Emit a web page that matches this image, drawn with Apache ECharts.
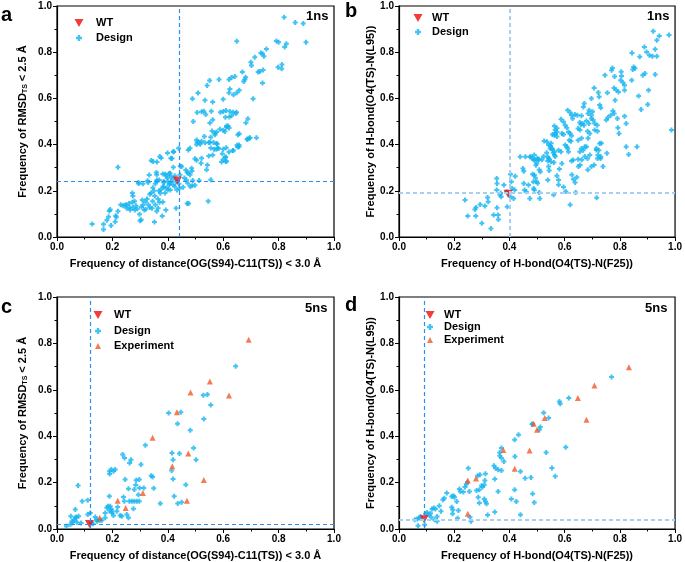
<!DOCTYPE html>
<html><head><meta charset="utf-8">
<script src="https://cdn.jsdelivr.net/npm/echarts@6/dist/echarts.min.js"></script>
<style>html,body{margin:0;padding:0;background:#fff}#c{width:685px;height:562px}</style>
</head><body><div id="c"></div>
<script>
// ---------- data ----------
const axisMin = 0, axisMax = 1, axisStep = 0.2;
const tickLabels = ['0.0','0.2','0.4','0.6','0.8','1.0'];

const xTitleA = 'Frequency of distance(OG(S94)-C11(TS)) < 3.0 Å';
const yTitleA = 'Frequency of RMSD{s|TS} < 2.5 Å';
const xTitleB = 'Frequency of H-bond(O4(TS)-N(F25))';
const yTitleB = 'Frequency of H-bond(O4(TS)-N(L95))';

const wtA = [[0.435, 0.245]];
const refA = [0.437, 0.245];
const designA = [
[0.127,0.056],[0.168,0.055],[0.168,0.033],[0.180,0.073],[0.186,0.088],[0.189,0.113],[0.192,0.119],[0.195,0.050],[0.212,0.092],[0.214,0.085],
[0.210,0.066],[0.220,0.111],[0.220,0.302],[0.238,0.135],[0.246,0.137],[0.252,0.124],[0.262,0.128],[0.264,0.117],[0.272,0.191],[0.274,0.177],
[0.272,0.150],[0.274,0.128],[0.281,0.117],[0.295,0.232],[0.298,0.099],[0.300,0.070],[0.304,0.075],[0.308,0.160],[0.310,0.138],[0.319,0.152],
[0.315,0.117],[0.327,0.243],[0.333,0.268],[0.340,0.331],[0.346,0.213],[0.353,0.177],[0.352,0.065],[0.361,0.246],[0.361,0.325],[0.368,0.200],
[0.373,0.189],[0.376,0.342],[0.382,0.152],[0.393,0.117],[0.380,0.091],[0.399,0.364],[0.421,0.368],[0.415,0.340],[0.405,0.275],[0.430,0.124],
[0.343,0.124],[0.330,0.140],[0.345,0.155],[0.365,0.165],[0.375,0.205],[0.385,0.215],[0.390,0.190],[0.400,0.205],[0.405,0.225],[0.410,0.238],
[0.412,0.260],[0.418,0.250],[0.425,0.265],[0.430,0.240],[0.440,0.230],[0.442,0.210],[0.445,0.306],[0.398,0.255],[0.390,0.272],[0.385,0.240],
[0.360,0.270],[0.355,0.230],[0.310,0.230],[0.285,0.135],[0.290,0.122],[0.320,0.120],[0.335,0.128],[0.355,0.140],[0.370,0.150],[0.365,0.125],
[0.360,0.112],[0.325,0.165],[0.335,0.185],[0.340,0.190],[0.350,0.200],[0.305,0.130],[0.260,0.145],[0.280,0.155],[0.250,0.140],[0.230,0.140],
[0.439,0.384],[0.474,0.377],[0.480,0.384],[0.420,0.370],[0.371,0.348],[0.411,0.341],[0.347,0.327],[0.450,0.305],[0.420,0.302],[0.486,0.298],
[0.487,0.286],[0.474,0.276],[0.444,0.269],[0.408,0.276],[0.396,0.265],[0.382,0.273],[0.359,0.279],[0.369,0.247],[0.386,0.236],[0.359,0.240],
[0.329,0.236],[0.294,0.236],[0.400,0.240],[0.408,0.233],[0.420,0.226],[0.425,0.219],[0.433,0.204],[0.409,0.204],[0.396,0.212],[0.383,0.219],
[0.472,0.233],[0.481,0.219],[0.488,0.222],[0.498,0.224],[0.513,0.245],[0.555,0.248],[0.467,0.247],[0.546,0.155],[0.470,0.145],[0.475,0.145],
[0.522,0.341],[0.520,0.319],[0.543,0.312],[0.540,0.291],[0.562,0.355],[0.548,0.351],[0.504,0.420],[0.522,0.414],[0.532,0.435],[0.555,0.432],
[0.548,0.409],[0.565,0.409],[0.578,0.403],[0.517,0.401],[0.581,0.384],[0.575,0.380],[0.611,0.386],[0.597,0.360],[0.608,0.345],[0.609,0.327],
[0.635,0.374],[0.650,0.397],[0.657,0.391],[0.687,0.423],[0.697,0.430],[0.720,0.430],[0.653,0.443],[0.588,0.466],[0.560,0.459],[0.570,0.449],
[0.612,0.475],[0.618,0.481],
[0.820,0.951],[0.860,0.929],[0.889,0.924],[0.899,0.843],[0.649,0.847],[0.792,0.849],[0.800,0.843],[0.828,0.837],[0.822,0.823],[0.756,0.814],
[0.742,0.793],[0.736,0.797],[0.747,0.783],[0.714,0.778],[0.700,0.757],[0.702,0.742],[0.798,0.735],[0.812,0.747],[0.811,0.728],[0.726,0.714],
[0.732,0.716],[0.744,0.723],[0.669,0.714],[0.681,0.692],[0.678,0.682],[0.674,0.673],[0.642,0.695],[0.630,0.690],[0.621,0.682],[0.585,0.682],
[0.551,0.678],[0.742,0.667],[0.658,0.635],[0.649,0.624],[0.624,0.641],[0.621,0.624],[0.637,0.616],[0.600,0.596],[0.708,0.599],[0.542,0.656],
[0.509,0.623],[0.489,0.599],[0.534,0.592],[0.562,0.584],[0.506,0.539],[0.522,0.542],[0.530,0.544],[0.537,0.530],[0.557,0.544],[0.590,0.540],
[0.600,0.543],[0.610,0.548],[0.624,0.543],[0.636,0.540],[0.648,0.540],[0.608,0.518],[0.622,0.520],[0.630,0.525],[0.645,0.535],[0.562,0.508],
[0.552,0.494],[0.492,0.500],[0.689,0.512],[0.682,0.495],[0.612,0.480],[0.621,0.472],[0.600,0.462],[0.606,0.457],[0.576,0.455],[0.570,0.443],
[0.658,0.447],[0.694,0.428],[0.687,0.423],[0.506,0.410],[0.534,0.408],[0.552,0.410],[0.576,0.405],[0.504,0.400],[0.514,0.409],[0.555,0.385],
[0.567,0.380],[0.583,0.383],[0.600,0.380],[0.657,0.398],[0.652,0.390],[0.621,0.368],[0.636,0.375],[0.609,0.346],[0.600,0.336],[0.594,0.325],
[0.612,0.328],[0.498,0.339],[0.504,0.332],[0.470,0.280],[0.465,0.290],[0.480,0.270],[0.455,0.215],[0.460,0.255],[0.490,0.245]
];

const wtB = [[0.395, 0.187]];
const refB = [0.397, 0.187];
const designB = [
[0.239,0.160],[0.249,0.091],[0.275,0.119],[0.279,0.128],[0.278,0.091],[0.294,0.141],[0.300,0.059],[0.311,0.134],[0.321,0.171],[0.323,0.153],
[0.333,0.037],[0.343,0.095],[0.354,0.253],[0.355,0.232],[0.354,0.203],[0.355,0.127],[0.359,0.095],[0.360,0.076],[0.368,0.191],[0.370,0.174],
[0.366,0.183],[0.380,0.225],[0.392,0.131],[0.390,0.196],[0.404,0.272],[0.407,0.239],[0.410,0.210],[0.419,0.203],[0.404,0.174],[0.415,0.167],
[0.421,0.263],[0.439,0.347],[0.449,0.297],[0.452,0.285],[0.452,0.232],[0.458,0.347],[0.455,0.203],[0.461,0.196],[0.469,0.225],[0.476,0.347],
[0.484,0.340],[0.484,0.272],[0.490,0.268],[0.487,0.239],[0.488,0.210],[0.490,0.203],[0.474,0.167],[0.496,0.311],
[0.490,0.355],[0.499,0.319],[0.501,0.341],[0.506,0.334],[0.494,0.256],[0.498,0.240],[0.502,0.233],[0.508,0.291],[0.512,0.283],[0.518,0.334],
[0.524,0.348],[0.508,0.193],[0.510,0.167],[0.526,0.416],[0.535,0.365],[0.542,0.340],[0.539,0.329],[0.542,0.305],[0.539,0.247],[0.544,0.288],
[0.549,0.394],[0.554,0.383],[0.559,0.365],[0.563,0.355],[0.566,0.348],[0.561,0.322],[0.551,0.406],[0.560,0.183],[0.563,0.481],[0.572,0.471],
[0.566,0.449],[0.572,0.435],[0.572,0.265],[0.578,0.247],[0.581,0.294],[0.578,0.226],[0.596,0.216],[0.604,0.197],[0.620,0.140],[0.626,0.269],
[0.632,0.250],[0.638,0.236],[0.640,0.193],[0.644,0.259],[0.650,0.305],[0.656,0.312],[0.662,0.334],[0.673,0.348],[0.679,0.391],[0.684,0.291],
[0.691,0.355],[0.697,0.305],[0.707,0.312],[0.716,0.170],[0.715,0.377],[0.721,0.355],[0.733,0.406],[0.739,0.305],[0.730,0.340],
[0.587,0.510],[0.596,0.499],[0.602,0.484],[0.608,0.473],[0.611,0.549],[0.620,0.539],[0.625,0.527],[0.629,0.513],[0.637,0.530],[0.646,0.527],
[0.661,0.525],[0.655,0.496],[0.659,0.487],[0.665,0.491],[0.670,0.484],[0.649,0.470],[0.655,0.463],[0.679,0.502],[0.688,0.491],[0.697,0.513],
[0.703,0.506],[0.709,0.491],[0.718,0.484],[0.751,0.506],[0.757,0.517],[0.767,0.527],[0.775,0.545],[0.779,0.535],[0.791,0.513],[0.793,0.473],
[0.797,0.448],[0.817,0.523],[0.823,0.491],[0.566,0.463],[0.572,0.455],[0.556,0.444],[0.563,0.441],[0.590,0.448],[0.596,0.444],[0.614,0.455],
[0.620,0.448],[0.625,0.438],[0.617,0.419],[0.623,0.415],[0.602,0.398],[0.608,0.391],[0.649,0.419],[0.661,0.427],[0.683,0.458],[0.685,0.427],
[0.691,0.448],[0.709,0.463],[0.719,0.458],[0.727,0.405],[0.536,0.412],[0.542,0.398],[0.548,0.383],[0.556,0.380],[0.563,0.369],[0.539,0.347],
[0.578,0.376],[0.587,0.369],[0.611,0.383],[0.614,0.369],[0.661,0.383],[0.667,0.376],[0.673,0.391],[0.655,0.369],[0.683,0.340],[0.715,0.383],
[0.724,0.376],[0.731,0.347],[0.719,0.340],[0.753,0.363],[0.823,0.391],[0.832,0.357],[0.862,0.391],[0.987,0.463],[0.494,0.333],[0.506,0.337],
[0.476,0.347],[0.488,0.333],[0.544,0.337],[0.551,0.326],[0.590,0.318],[0.625,0.329],[0.631,0.333],[0.649,0.337],
[0.921,0.891],[0.978,0.875],[0.943,0.870],[0.934,0.852],[0.889,0.823],[0.897,0.801],[0.872,0.780],[0.907,0.787],[0.918,0.783],[0.934,0.783],
[0.928,0.813],[0.844,0.797],[0.850,0.736],[0.847,0.725],[0.855,0.730],[0.773,0.732],[0.770,0.722],[0.746,0.700],[0.781,0.695],[0.805,0.715],
[0.806,0.697],[0.803,0.679],[0.811,0.669],[0.817,0.657],[0.843,0.679],[0.883,0.700],[0.891,0.708],[0.928,0.703],[0.904,0.635],[0.707,0.645],
[0.722,0.626],[0.725,0.607],[0.755,0.624],[0.779,0.645],[0.787,0.636],[0.795,0.628],[0.783,0.592],[0.817,0.635],[0.868,0.610],[0.901,0.574],
[0.877,0.552],[0.671,0.578],[0.668,0.563],[0.697,0.600],[0.727,0.571],[0.731,0.559],[0.701,0.542],[0.697,0.527],[0.689,0.549],[0.685,0.535]
];

const wtC = [[0.117, 0.022]];
const refC = [0.117, 0.022];
const designC = [
[0.034,0.012],[0.048,0.019],[0.050,0.055],[0.054,0.033],[0.058,0.029],[0.063,0.040],[0.066,0.048],[0.070,0.052],[0.072,0.029],[0.066,0.084],
[0.078,0.055],[0.076,0.187],[0.087,0.026],[0.091,0.120],[0.111,0.124],[0.111,0.062],[0.120,0.069],[0.124,0.026],[0.130,0.023],[0.138,0.052],
[0.142,0.041],[0.144,0.033],[0.150,0.038],[0.156,0.038],[0.162,0.038],[0.174,0.048],[0.174,0.069],[0.180,0.092],[0.184,0.098],[0.192,0.098],
[0.196,0.086],[0.189,0.080],[0.198,0.077],[0.189,0.141],[0.190,0.249],[0.190,0.237],[0.196,0.256],[0.204,0.249],[0.210,0.256],[0.198,0.069],
[0.204,0.058],[0.216,0.076],[0.219,0.095],[0.228,0.058],[0.234,0.055],[0.237,0.321],[0.244,0.306],[0.240,0.138],[0.243,0.120],[0.246,0.213],
[0.252,0.062],[0.258,0.048],[0.262,0.285],[0.267,0.299],[0.258,0.173],[0.261,0.120],[0.270,0.120],[0.279,0.120],[0.288,0.120],[0.297,0.120],
[0.276,0.087],[0.279,0.170],[0.284,0.190],[0.286,0.210],[0.297,0.213],[0.294,0.148],[0.298,0.177],[0.303,0.278],[0.313,0.177],[0.319,0.361],
[0.340,0.230],[0.345,0.224],[0.349,0.176],[0.373,0.110],[0.403,0.500],[0.415,0.328],[0.419,0.299],[0.419,0.216],[0.423,0.141],[0.435,0.454],
[0.436,0.110],[0.442,0.325],[0.447,0.503],[0.450,0.115],[0.465,0.191],[0.481,0.426],[0.493,0.349],[0.502,0.299],[0.414,0.252],[0.645,0.702],
[0.528,0.576],[0.543,0.580],[0.555,0.534],[0.530,0.474]
];
const expC = [
[0.692,0.816],[0.552,0.636],[0.482,0.588],[0.621,0.575],[0.433,0.503],[0.345,0.393],[0.474,0.325],[0.416,0.270],[0.530,0.211],[0.310,0.155],
[0.219,0.122],[0.469,0.122],[0.248,0.090],[0.154,0.049]
];

const wtD = [[0.091, 0.042]];
const refD = [0.091, 0.042];
const designD = [
[0.066,0.043],[0.072,0.047],[0.057,0.040],[0.069,0.014],[0.078,0.054],[0.093,0.018],[0.096,0.066],[0.102,0.071],[0.108,0.061],[0.114,0.068],
[0.120,0.086],[0.126,0.090],[0.132,0.086],[0.117,0.051],[0.129,0.040],[0.138,0.033],[0.138,0.054],[0.146,0.100],[0.152,0.076],[0.159,0.126],
[0.164,0.133],[0.173,0.155],[0.191,0.140],[0.197,0.143],[0.201,0.137],[0.191,0.094],[0.195,0.083],[0.194,0.066],[0.209,0.119],[0.215,0.080],
[0.212,0.046],[0.219,0.172],[0.222,0.162],[0.233,0.159],[0.239,0.181],[0.244,0.193],[0.248,0.201],[0.251,0.262],[0.255,0.162],[0.257,0.051],
[0.261,0.033],[0.285,0.229],[0.293,0.234],[0.281,0.166],[0.291,0.169],[0.287,0.137],[0.291,0.112],[0.299,0.186],[0.303,0.181],[0.309,0.191],
[0.313,0.238],[0.311,0.209],[0.309,0.129],[0.313,0.119],[0.317,0.109],[0.321,0.060],[0.344,0.273],[0.350,0.262],[0.359,0.255],[0.371,0.252],
[0.347,0.215],[0.359,0.162],[0.347,0.073],[0.365,0.316],[0.371,0.306],[0.380,0.291],[0.365,0.330],[0.371,0.349],[0.419,0.385],[0.433,0.406],
[0.419,0.169],[0.425,0.119],[0.407,0.129],[0.440,0.248],[0.457,0.219],[0.478,0.222],[0.484,0.152],[0.490,0.114],[0.440,0.061],[0.484,0.453],
[0.581,0.550],[0.584,0.540],[0.524,0.501],[0.542,0.478],[0.482,0.452],[0.508,0.428],[0.512,0.440],[0.533,0.330],[0.604,0.352],[0.615,0.565],
[0.770,0.655],[0.554,0.263],[0.566,0.227],[0.420,0.313]
];
const expD = [
[0.833,0.697],[0.708,0.618],[0.648,0.565],[0.679,0.471],[0.528,0.478],[0.488,0.454],[0.500,0.428],[0.473,0.338],[0.378,0.341],[0.419,0.260],
[0.249,0.209],[0.279,0.218],[0.249,0.066]
];

// ---------- styling ----------
const FF = 'Arial, "Liberation Sans", Helvetica, sans-serif';
const BLUE = '#14b4f0', RED = '#f00a0a', ORANGE = '#f05a2a';
const PLUS = 'path://M3,0H7V3H10V7H7V10H3V7H0V3H3Z';
const DOWN = 'path://M0,0L10,0L5,8.7Z';

const grids = [
  {left: 57, top: 6, width: 277, height: 231},
  {left: 399, top: 6, width: 279, height: 231},
  {left: 57, top: 297, width: 277, height: 232},
  {left: 399, top: 297, width: 279, height: 232}
].map(g => Object.assign({show: true, borderColor: '#000', borderWidth: 1.2, containLabel: false}, g));

function axis(i, name, gap) {
  return {
    type: 'value', gridIndex: i, min: axisMin, max: axisMax, interval: axisStep,
    name: name, nameLocation: 'middle', nameGap: gap,
    nameTextStyle: {fontFamily: FF, fontWeight: 'bold', fontSize: 11, color: '#000',
      rich: {s: {fontFamily: FF, fontWeight: 'bold', fontSize: 7, color: '#000', verticalAlign: 'bottom', padding: [6, 0, 0, 0]}}},
    axisLine: {show: true, onZero: false, lineStyle: {color: '#000', width: 1.2}},
    axisTick: {show: true, inside: false, length: 4, lineStyle: {color: '#000', width: 1}},
    minorTick: {show: true, splitNumber: 2, length: 2.5, lineStyle: {color: '#000', width: 1}},
    splitLine: {show: false},
    axisLabel: {fontFamily: FF, fontWeight: 'bold', fontSize: 10, color: '#000', margin: 5,
      formatter: v => tickLabels[Math.round(v / axisStep)] }
  };
}

const xAxes = [axis(0, xTitleA, 21), axis(1, xTitleB, 21), axis(2, xTitleA, 21), axis(3, xTitleB, 21)];
const yAxes = [axis(0, yTitleA, 28), axis(1, yTitleB, 22), axis(2, yTitleA, 28), axis(3, yTitleB, 22)];

const darkDash = () => ({color: '#2a8ff0', width: 1.2, type: [4, 3], opacity: 1});
const lightDash = () => ({color: '#a9cff0', width: 2, type: [4, 3], opacity: 1});

function refLine(ref, vStyle, hStyle) {
  return {
    silent: true, symbol: ['none', 'none'], label: {show: false}, animation: false,
    lineStyle: vStyle(),
    emphasis: {disabled: true}, blur: {lineStyle: {opacity: 1}},
    data: [{xAxis: ref[0], lineStyle: vStyle()}, {yAxis: ref[1], lineStyle: hStyle()}]
  };
}

function designSeries(i, data) {
  return {name: 'Design', type: 'scatter', xAxisIndex: i, yAxisIndex: i, data: data,
    symbol: PLUS, symbolSize: 5, itemStyle: {color: BLUE}, z: 2};
}
function expSeries(i, data) {
  return {name: 'Experiment', type: 'scatter', xAxisIndex: i, yAxisIndex: i, data: data,
    symbol: 'triangle', symbolSize: 6, itemStyle: {color: ORANGE}, z: 3};
}
function wtSeries(i, data, ref, vS, hS) {
  return {name: 'WT', type: 'scatter', xAxisIndex: i, yAxisIndex: i, data: data,
    symbol: DOWN, symbolSize: [9, 8], itemStyle: {color: RED}, z: 4,
    markLine: refLine(ref, vS, hS)};
}

const series = [
  designSeries(0, designA), wtSeries(0, wtA, refA, darkDash, darkDash),
  designSeries(1, designB), wtSeries(1, wtB, refB, lightDash, lightDash),
  designSeries(2, designC), expSeries(2, expC), wtSeries(2, wtC, refC, darkDash, darkDash),
  designSeries(3, designD), expSeries(3, expD), wtSeries(3, wtD, refD, darkDash, lightDash)
];

// one legend row: icon centred at cx, row centred at cy, text starting at tx
const legendSize = {WT: [9, 8], Design: [6, 6], Experiment: [6, 6]};
function legendRow(name, cx, cy, tx) {
  const s = legendSize[name];
  const extra = Math.max(0, tx - (cx + s[0] / 2) - 5);
  return {left: cx - s[0] / 2, top: cy - 7, orient: 'vertical', data: [name], selectedMode: false,
    itemWidth: s[0], itemHeight: s[1], padding: 0,
    textStyle: {fontFamily: FF, fontWeight: 'bold', fontSize: 11, color: '#000', lineHeight: 14,
      padding: [0, 0, 0, extra]}};
}

function label(text, left, top, size) {
  return {text: text, left: left, top: top, padding: 0,
    textStyle: {fontFamily: FF, fontWeight: 'bold', fontSize: size, color: '#000'}};
}

const chart = echarts.init(document.getElementById('c'), null, {renderer: 'canvas'});
chart.setOption({
  animation: false,
  backgroundColor: '#fff',
  grid: grids,
  xAxis: xAxes,
  yAxis: yAxes,
  series: series,
  legend: [
    legendRow('WT', 79, 23, 96), legendRow('Design', 79, 38, 96),
    legendRow('WT', 418, 18, 432), legendRow('Design', 418, 32, 432),
    legendRow('WT', 98, 315, 114), legendRow('Design', 98, 331, 114), legendRow('Experiment', 98, 346, 114),
    legendRow('WT', 430, 315, 444), legendRow('Design', 430, 327, 444), legendRow('Experiment', 430, 340, 444)
  ],
  title: [
    label('a', 1, 5, 20), label('b', 345, 1, 20), label('c', 1, 297, 20), label('d', 345, 295, 20),
    label('1ns', 306, 10, 13), label('1ns', 647, 10, 13), label('5ns', 305, 302, 13), label('5ns', 645, 302, 13)
  ]
});
</script>
</body></html>
